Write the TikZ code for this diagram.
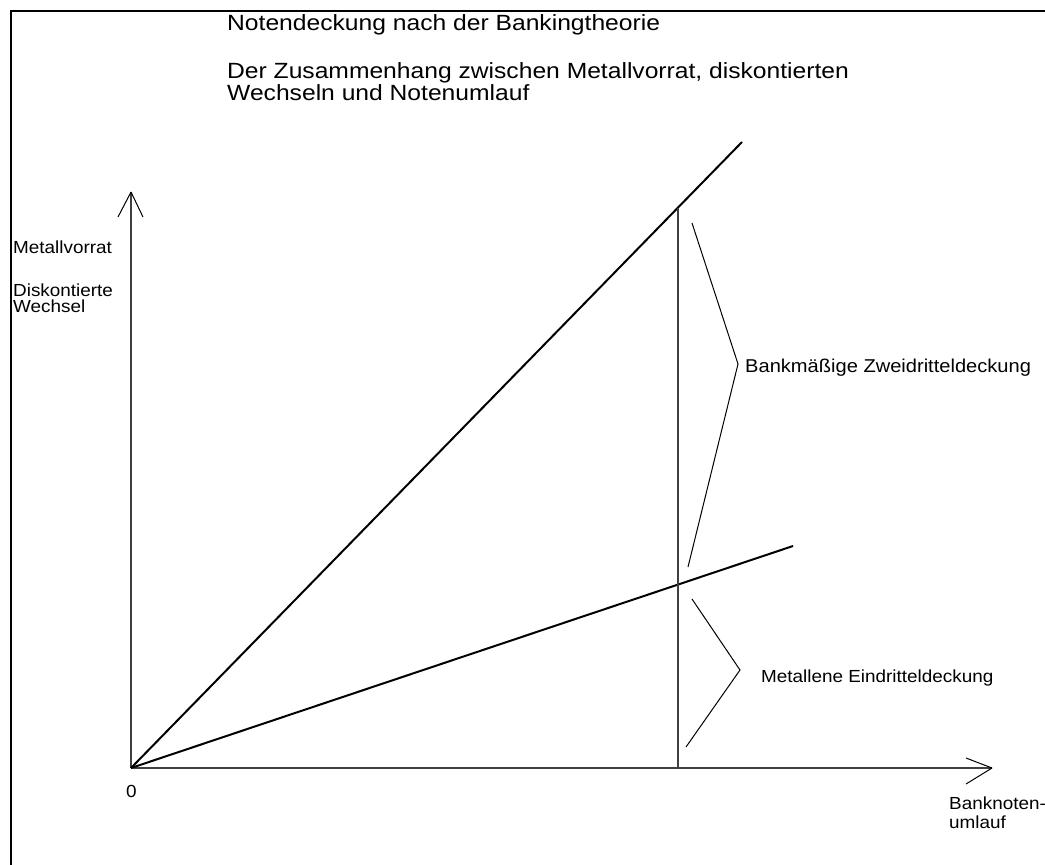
\documentclass[tikz,border=0pt]{standalone}
\usepackage{fontspec}
\setmainfont{Liberation Sans}
\newfontfamily\titlefont[FakeStretch=1.12]{Liberation Sans}
\newfontfamily\labelfont[FakeStretch=1.08]{Liberation Sans}
\begin{document}
\begin{tikzpicture}[x=1pt,y=-1pt,
  frame/.style={line width=2.4pt},
  axis/.style={line width=1.3pt,draw=black!75},
  mainline/.style={line width=2pt},
  vline/.style={line width=1.3pt,draw=black!75},
  bracket/.style={line width=1pt},
  ttl/.style={anchor=base west,inner sep=0pt,font=\titlefont\fontsize{22}{20}\selectfont},
  lbl/.style={anchor=base west,inner sep=0pt,font=\labelfont\fontsize{17.5}{19}\selectfont},
  line join=miter]
\useasboundingbox (0,0) rectangle (1045,865);
\begin{scope}
\clip (0,0) rectangle (1045,865);
\draw[frame] (11,11) rectangle (1060,880);
\end{scope}
% coordinates
\coordinate (O) at (131,768);
\coordinate (Ytip) at (131,192);
\coordinate (Xtip) at (992,768);
\coordinate (A) at (742,142);
\coordinate (B) at (793,546);
\coordinate (Vtop) at (678,208);
\coordinate (Vbot) at (678,768);
\coordinate (b1a) at (692,223);
\coordinate (b1m) at (738,364);
\coordinate (b1b) at (688,567);
\coordinate (b2a) at (692,599);
\coordinate (b2m) at (740,670);
\coordinate (b2b) at (686,747);
% axes
\draw[axis] (O) -- (Ytip);
\draw[axis] (O) -- (Xtip);
\draw[bracket] (Ytip) -- ++(-13,25);
\draw[bracket] (Ytip) -- ++(12,25);
\draw[bracket] (Xtip) -- ++(-26,-10);
\draw[bracket] (Xtip) -- ++(-26,16);
% lines
\draw[mainline] (O) -- (A);
\draw[mainline] (O) -- (B);
\draw[vline] (Vtop) -- (Vbot);
% brackets
\draw[bracket] (b1a) -- (b1m) -- (b1b);
\draw[bracket] (b2a) -- (b2m) -- (b2b);
% texts
\node[ttl] (t1) at (227,30) {Notendeckung nach der Bankingtheorie};
\node[ttl] (t2) at (227,78) {Der Zusammenhang zwischen Metallvorrat, diskontierten};
\node[ttl] (t3) at (227,100) {Wechseln und Notenumlauf};
\node[lbl] (l1) at (13,253) {Metallvorrat};
\node[lbl] (l2) at (13,296) {Diskontierte};
\node[lbl] (l3) at (13,312) {Wechsel};
\node[lbl] (l0) at (126,797) {0};
\node[lbl] (lx1) at (949,809) {Banknoten-};
\node[lbl] (lx2) at (949,828) {umlauf};
\node[lbl,font=\labelfont\fontsize{18.6}{19}\selectfont] (lz) at (745,372) {Bankmäßige Zweidritteldeckung};
\node[lbl] (le) at (761,682) {Metallene Eindritteldeckung};
\end{tikzpicture}
\end{document}
